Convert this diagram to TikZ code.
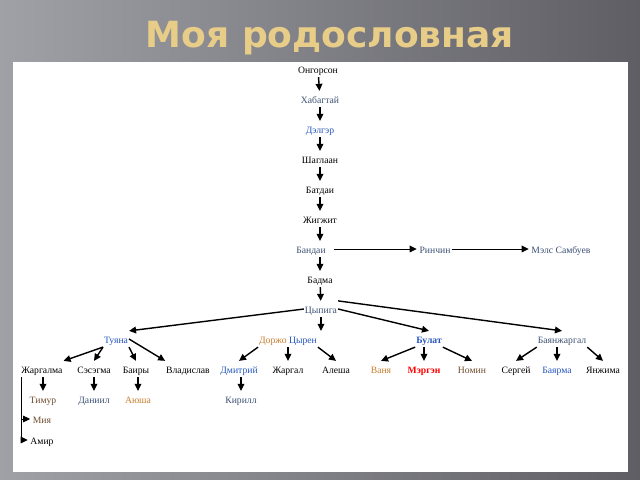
\documentclass[tikz,border=0pt]{standalone}
\usepackage{fontspec}
\setmainfont{Liberation Serif}
\newfontfamily\titlefont{DejaVu Sans}
\usetikzlibrary{positioning}
\usetikzlibrary{arrows.meta}
\definecolor{bgleft}{RGB}{160,160,167}
\definecolor{bgright}{RGB}{94,94,100}
\definecolor{titlegold}{RGB}{231,205,136}
\definecolor{nameblue}{RGB}{35,85,190}
\definecolor{nameslate}{RGB}{60,80,115}
\definecolor{nameorange}{RGB}{200,125,45}
\definecolor{namebrown}{RGB}{110,75,45}
\tikzstyle{person} = [inner sep=0.4pt, font=\fontsize{5.5}{6}\selectfont, text height=1.45ex, text depth=0.3ex, text=black]
\tikzstyle{link} = [-{Triangle[length=4pt,width=3.8pt]}, line width=0.8pt]
\tikzstyle{thinlink} = [-{Triangle[length=4pt,width=3.8pt]}, line width=0.5pt]

\begin{document}
\begin{tikzpicture}[x=0.02cm,y=-0.02cm]
			\useasboundingbox (0,0) rectangle (640,480);
			\shade[left color=bgleft, right color=bgright] (0,0) rectangle (640,480);
			\fill[white] (13,62) rectangle (628,472);
			\node[font=\titlefont\bfseries\fontsize{20.5}{22}\selectfont, text=titlegold](title) at (330,38){Моя родословная};
			% main line
			\node[person](ongorson) at (318,69){Онгорсон};
			\node[person, text=nameslate](khabagtai) at (320,99){Хабагтай};
			\node[person, text=nameblue](delger) at (320,129){Дэлгэр};
			\node[person](shaglaan) at (320,159){Шаглаан};
			\node[person](batdai) at (320,189){Батдаи};
			\node[person](zhigzhit) at (320,219){Жигжит};
			\node[person, text=nameslate](bandai) at (311,249){Бандаи};
			\node[person, text=nameslate](rinchin) at (435,249){Ринчин};
			\node[person, text=nameslate](mels) at (561,249){Мэлс Самбуев};
			\node[person](badma) at (320,279){Бадма};
			\node[person, text=nameslate](tsypiga) at (321,309){Цыпига};
			\draw[link] (ongorson) -- (khabagtai);
			\draw[link] (khabagtai) -- (delger);
			\draw[link] (delger) -- (shaglaan);
			\draw[link] (shaglaan) -- (batdai);
			\draw[link] (batdai) -- (zhigzhit);
			\draw[link] (zhigzhit) -- (bandai.north -| zhigzhit);
			\draw[thinlink] ([xshift=4pt]bandai.east) -- ([xshift=-1pt]rinchin.west);
			\draw[thinlink] (rinchin) -- ([xshift=-1pt]mels.west);
			\draw[link] (bandai.south -| badma) -- (badma);
			\draw[link] (badma) -- (tsypiga);
			% children
			\node[person, text=nameblue](tuyana) at (116,339){Туяна};
			\node[person](dorzho) at (288,339){\textcolor{nameorange}{Доржо} \textcolor{nameblue}{Цырен}};
			\node[person, text=nameblue, font=\bfseries\fontsize{5.5}{6}\selectfont](bulat) at (429,339){Булат};
			\node[person, text=nameslate](bayan) at (562,339){Баянжаргал};
			\draw[link] (tsypiga.west) -- (tuyana.north east);
			\draw[link] (tsypiga.south) -- (tsypiga.south |- dorzho.north);
			\draw[link] (tsypiga.east) -- (bulat.north);
			\draw[link] (tsypiga.north east) -- (bayan.north);
			% grandchildren
			\node[person](zhargalma) at (42,369){Жаргалма};
			\node[person](sesegma) at (94,369){Сэсэгма};
			\node[person](bairy) at (136,369){Баиры};
			\node[person](vlad) at (188,369){Владислав};
			\node[person, text=nameblue](dmitry) at (239,369){Дмитрий};
			\node[person](zhargal) at (288,369){Жаргал};
			\node[person](alesha) at (336,369){Алеша};
			\node[person, text=nameorange](vanya) at (381,369){Ваня};
			\node[person, text=red, font=\bfseries\fontsize{5.5}{6}\selectfont](mergen) at (424,369){Мэргэн};
			\node[person, text=namebrown](nomin) at (472,369){Номин};
			\node[person](sergey) at (516,369){Сергей};
			\node[person, text=nameblue](bayarma) at (557,369){Баярма};
			\node[person](yanzhima) at (603,369){Янжима};
			\draw[link] (tuyana.south west) -- (zhargalma.north east);
			\draw[link] (tuyana.south west) -- (sesegma.north);
			\draw[link] (tuyana.south east) -- (bairy.north);
			\draw[link] (tuyana.east) -- (vlad.north west);
			\draw[link] (dorzho.south west) -- (dmitry.north);
			\draw[link] (dorzho.south -| zhargal) -- (zhargal.north);
			\draw[link] (dorzho.south east) -- (alesha.north);
			\draw[link] (bulat.south west) -- (vanya.north);
			\draw[link] (bulat.south -| mergen) -- (mergen.north);
			\draw[link] (bulat.south east) -- (nomin.north);
			\draw[link] (bayan.south west) -- (sergey.north);
			\draw[link] (bayan.south -| bayarma) -- (bayarma.north);
			\draw[link] (bayan.south east) -- (yanzhima.north);
			% great-grandchildren
			\node[person, text=namebrown](timur) at (43,399){Тимур};
			\node[person, text=nameslate](daniil) at (94,399){Даниил};
			\node[person, text=nameorange](ayusha) at (138,399){Аюша};
			\node[person, text=nameslate](kirill) at (241,399){Кирилл};
			\node[person, text=namebrown](miya) at (42,419){Мия};
			\node[person](amir) at (42,440){Амир};
			\draw[link] (zhargalma.south -| timur) -- (timur.north);
			\draw[link] (sesegma.south -| daniil) -- (daniil.north);
			\draw[link] (bairy.south -| ayusha) -- (ayusha.north);
			\draw[link] (dmitry.south -| kirill) -- (kirill.north);
			\draw[thinlink] ([xshift=0.5pt]zhargalma.south west) |- ([xshift=-1pt]miya.west);
			\draw[thinlink] ([xshift=0.5pt]zhargalma.south west) |- ([xshift=-1pt]amir.west);
		\end{tikzpicture}
\end{document}
